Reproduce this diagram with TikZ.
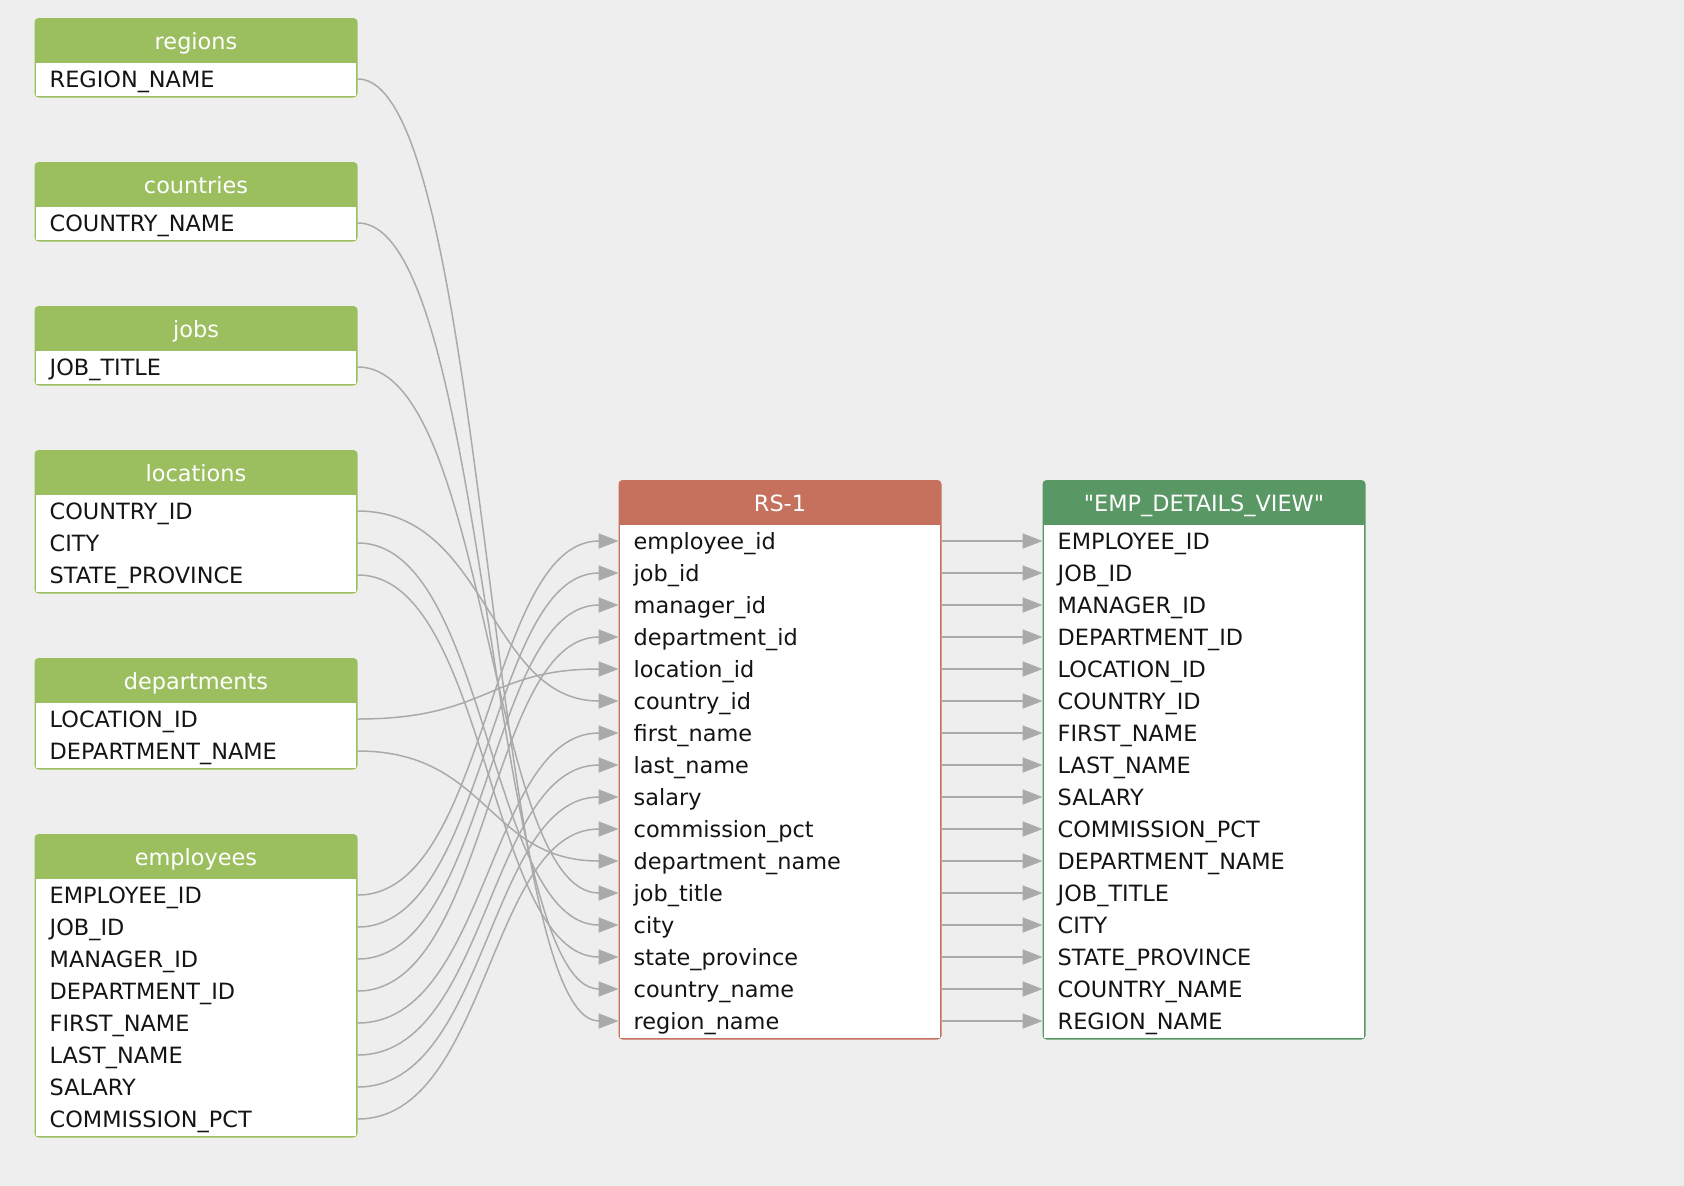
\documentclass[tikz,border=0pt]{standalone}
\usepackage{fontspec}
\setmainfont{DejaVu Sans}
\newfontfamily\plainfont{DejaVu Sans}
\usetikzlibrary{arrows.meta}
\definecolor{tabgreen}{HTML}{9BBF5F}
\definecolor{rsred}{HTML}{C6705E}
\definecolor{viewgreen}{HTML}{599765}
\definecolor{linkgray}{HTML}{AAAAAA}
\definecolor{paper}{HTML}{EEEEEE}

\begin{document}
\begin{tikzpicture}[x=1pt, y=-1pt,
    field/.style={anchor=west, text width=293pt, inner xsep=15pt, inner ysep=0pt,
      minimum height=32pt, text height=20pt, text depth=4pt, align=left,
      font=\fontsize{22.4}{26}\selectfont, text=black!92},
    title/.style={text=white, text height=20pt, text depth=4pt, inner sep=0pt,
      font=\fontsize{22.4}{26}\selectfont},
    link/.style={draw=linkgray, line width=1.5pt, -{Triangle[length=20pt,width=15pt]}}]
    \fill[paper] (0,0) rectangle (1684,1186);
    \useasboundingbox (0,0) rectangle (1684,1186);

    % source tables
    \foreach \t/\n in {18/1, 162/1, 306/1, 450/3, 658/2, 834/8} {
        \fill[tabgreen, rounded corners=4pt] (34.5,\t) rectangle (357.5,{\t+47.5+32*\n});
        \fill[white] (36,{\t+45}) rectangle (356,{\t+45.5+32*\n});
    }
    \node[title] (regions) at (196,41.5) {regions};
    \node[title] (countries) at (196,185.5) {countries};
    \node[title] (jobs) at (196,329.5) {jobs};
    \node[title] (locations) at (196,473.5) {locations};
    \node[title] (departments) at (196,681.5) {departments};
    \node[title] (employees) at (196,857.5) {employees};

    \node[field] (regions-1) at (34.5,79) {REGION\_NAME};
    \node[field] (countries-1) at (34.5,223) {COUNTRY\_NAME};
    \node[field] (jobs-1) at (34.5,367) {JOB\_TITLE};
    \foreach \f [count=\i] in {COUNTRY\_ID, CITY, STATE\_PROVINCE}
        \node[field] (loc-\i) at (34.5,{479+32*\i}) {\f};
    \foreach \f [count=\i] in {LOCATION\_ID, DEPARTMENT\_NAME}
        \node[field] (dep-\i) at (34.5,{687+32*\i}) {\f};
    \foreach \f [count=\i] in {EMPLOYEE\_ID, JOB\_ID, MANAGER\_ID, DEPARTMENT\_ID,
        FIRST\_NAME, LAST\_NAME, SALARY, COMMISSION\_PCT}
        \node[field] (emp-\i) at (34.5,{863+32*\i}) {\f};

    % result set and view
    \fill[rsred, rounded corners=4pt] (618.5,480) rectangle (941.5,1039.5);
    \fill[white] (620,525) rectangle (940,1037.5);
    \node[title] (rs) at (780,503.5) {RS-1};
    \fill[viewgreen, rounded corners=4pt] (1042.5,480) rectangle (1365.5,1039.5);
    \fill[white] (1044,525) rectangle (1364,1037.5);
    \node[title] (view) at (1204,503.5) {\plainfont"EMP\_DETAILS\_VIEW"};

    \foreach \f [count=\i] in {employee\_id, job\_id, manager\_id, department\_id,
        location\_id, country\_id, first\_name, last\_name, salary, commission\_pct,
        department\_name, job\_title, city, state\_province, country\_name, region\_name}
        \node[field] (rs-\i) at (618.5,{509+32*\i}) {\f};
    \foreach \f [count=\i] in {EMPLOYEE\_ID, JOB\_ID, MANAGER\_ID, DEPARTMENT\_ID,
        LOCATION\_ID, COUNTRY\_ID, FIRST\_NAME, LAST\_NAME, SALARY, COMMISSION\_PCT,
        DEPARTMENT\_NAME, JOB\_TITLE, CITY, STATE\_PROVINCE, COUNTRY\_NAME, REGION\_NAME}
        \node[field] (view-\i) at (1042.5,{509+32*\i}) {\f};

    % lineage
    \foreach \a/\b in {regions-1/rs-16, countries-1/rs-15, jobs-1/rs-12,
        loc-1/rs-6, loc-2/rs-13, loc-3/rs-14, dep-1/rs-5, dep-2/rs-11,
        emp-1/rs-1, emp-2/rs-2, emp-3/rs-3, emp-4/rs-4,
        emp-5/rs-7, emp-6/rs-8, emp-7/rs-9, emp-8/rs-10}
        \draw[link] (\a.east) .. controls +(130,0) and +(-130,0) .. (\b.west);
    \foreach \i in {1,...,16}
        \draw[link] (rs-\i.east) -- (view-\i.west);
\end{tikzpicture}
\end{document}
